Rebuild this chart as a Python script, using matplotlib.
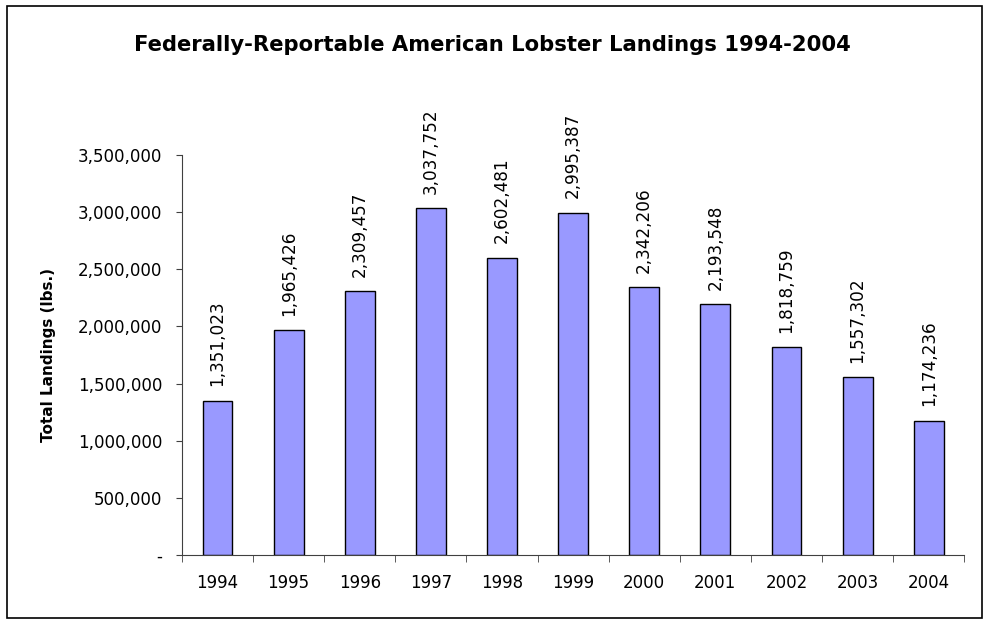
import matplotlib
matplotlib.use('Agg')
import matplotlib.pyplot as plt
from matplotlib.patches import Rectangle
from matplotlib.ticker import FuncFormatter, FixedLocator

# --- Data ---
years = ['1994', '1995', '1996', '1997', '1998', '1999',
         '2000', '2001', '2002', '2003', '2004']
landings = [1351023, 1965426, 2309457, 3037752, 2602481, 2995387,
            2342206, 2193548, 1818759, 1557302, 1174236]
yticks = [0, 500000, 1000000, 1500000, 2000000, 2500000, 3000000, 3500000]

plt.rcParams['font.family'] = ['DejaVu Sans']

fig = plt.figure(figsize=(9.89, 6.2), dpi=100)
fig.patches.append(Rectangle((0.007, 0.003), 0.986, 0.988, transform=fig.transFigure,
                             fill=False, edgecolor='black', linewidth=1.2))
ax = fig.add_axes([0.184, 0.105, 0.791, 0.645])

x = list(range(len(years)))
bars = ax.bar(x, landings, width=0.42, color='#9999FF', edgecolor='black', linewidth=1)

# rotated value labels above each bar
for xi, v in zip(x, landings):
    ax.text(xi, v + 125000, f'{v:,}', rotation=90, ha='center', va='bottom', fontsize=12.2)

ax.set_xlim(-0.5, len(years) - 0.5)
ax.set_ylim(0, 3500000)
ax.set_yticks(yticks)
ax.yaxis.set_major_formatter(FuncFormatter(lambda v, p: '-' if v == 0 else f'{int(v):,}'))
ax.set_xticks(x)
ax.set_xticklabels(years)
ax.xaxis.set_minor_locator(FixedLocator([i - 0.5 for i in range(len(years) + 1)]))
ax.tick_params(axis='x', which='major', length=0, pad=14, labelsize=12)
ax.tick_params(axis='x', which='minor', length=5, direction='out', color='#404040')
ax.tick_params(axis='y', length=4, direction='out', labelsize=12, pad=10, color='#404040')

for s in ['top', 'right']:
    ax.spines[s].set_visible(False)
ax.spines['left'].set_color('#404040')
ax.spines['bottom'].set_color('#404040')

ax.set_ylabel('Total Landings (lbs.)', fontsize=11, fontweight='bold', labelpad=16)
fig.text(0.498, 0.927, 'Federally-Reportable American Lobster Landings 1994-2004',
         ha='center', va='center', fontsize=15.2, fontweight='bold')

fig.savefig('out.png', dpi=100)
